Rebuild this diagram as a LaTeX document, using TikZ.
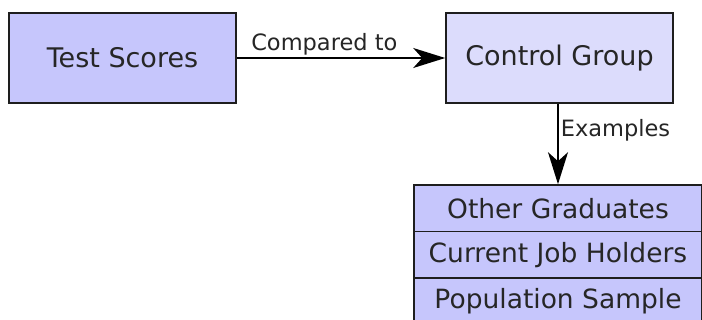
\documentclass[tikz,border=0pt]{standalone}
\usepackage{fontspec}
\setmainfont{DejaVu Sans}
\usetikzlibrary{arrows.meta}
\definecolor{boxA}{RGB}{198,198,252}
\definecolor{boxB}{RGB}{220,220,252}
\definecolor{edgec}{RGB}{30,30,30}
\begin{document}
\begin{tikzpicture}[x=1pt,y=-1pt,
  mainbox/.style={draw=edgec, line width=1.6pt, fill=boxA, minimum width=227pt, minimum height=90pt, inner sep=0pt, font=\fontsize{27}{32}\selectfont, text=black!85},
  rowbox/.style={draw=edgec, line width=1.6pt, fill=boxA, minimum width=288pt, minimum height=46.5pt, inner sep=0pt, font=\fontsize{26.5}{32}\selectfont, text=black!85},
  conn/.style={draw=black, line width=1.6pt, -{Stealth[length=32pt,width=20pt,inset=9pt]}},
  lbl/.style={font=\fontsize{22.5}{26}\selectfont, text=black!85, inner sep=2pt}
]
\useasboundingbox (0,0) rectangle (702,320);
\fill[white] (0,0) rectangle (702,320);
\begin{scope}
\clip (0,0) rectangle (702,320);
\node[mainbox] (ts) at (122.5,58) {Test Scores};
\node[mainbox, fill=boxB] (cg) at (559.5,58) {Control Group};
\node[rowbox] (og) at (558,208.25) {Other Graduates};
\node[rowbox] (cj) at (558,254.75) {Current Job Holders};
\node[rowbox] (ps) at (558,301.25) {Population Sample};
\draw[conn] (ts.east) -- node[lbl, above, pos=0.42] {Compared to} (cg.west);
\draw[conn] (cg.south -| og.north) -- node[lbl, right, pos=0.33] {Examples} (og.north);
\end{scope}
\end{tikzpicture}
\end{document}
